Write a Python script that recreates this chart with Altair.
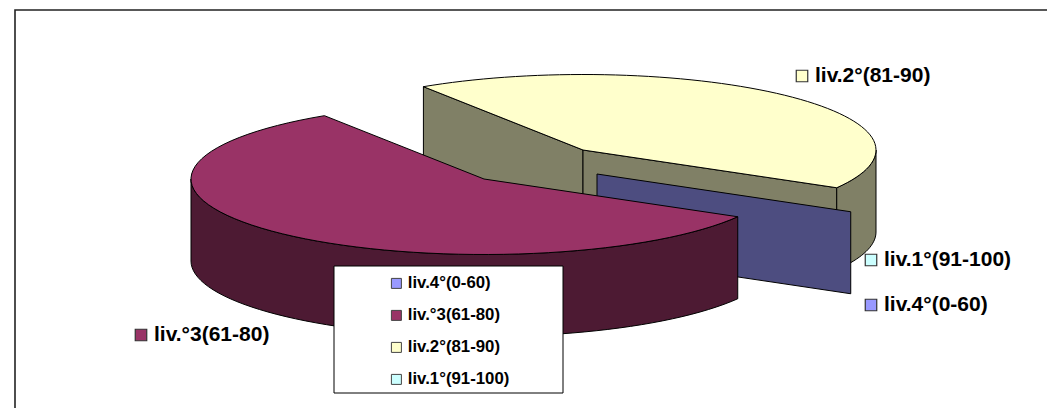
import math
import altair as alt
import pandas as pd

# ---- chart values ----
categories = ["liv.4°(0-60)", "liv.°3(61-80)", "liv.2°(81-90)", "liv.1°(91-100)"]
shares = [0.0, 57.5, 42.5, 0.0]
face_colors = ["#9999FF", "#993366", "#FFFFCC", "#CCFFFF"]
wall_colors = ["#4D4D80", "#4D1A33", "#808066", "#668080"]
centers_x = [597, 484, 583, 583]
centers_y = [174, 179, 150, 150]
label_x = [871, 141, 802, 871]
label_y = [305, 335, 76, 260]

# ---- layout of the tilted pie, in image pixels ----
RX, RY, DEPTH = 293, 75.5, 82
START = -30.0  # degrees, the direction where liv.2 begins
M = 8
VIEW_W, VIEW_H = 1039, 400

total = sum(shares)
a_yellow_end = START + shares[2] / total * 360
a_purple_end = a_yellow_end + shares[1] / total * 360


def rim(i, a0, a1, n=70):
    pts = []
    for k in range(n + 1):
        t = math.radians(a0 + (a1 - a0) * k / n)
        pts.append((centers_x[i] + RX * math.cos(t), centers_y[i] - RY * math.sin(t)))
    return pts


def down(pts):
    return [(x, y + DEPTH) for x, y in reversed(pts)]


def frame(pts):
    pts = pts + pts[:1]
    return pd.DataFrame({"x": [p[0] for p in pts], "y": [p[1] for p in pts], "i": range(len(pts))})


X = alt.X("x:Q", axis=None, scale=alt.Scale(domain=[M, M + VIEW_W], range=[0, VIEW_W], nice=False, zero=False))
Y = alt.Y("y:Q", axis=None, scale=alt.Scale(domain=[M, M + VIEW_H], range=[0, VIEW_H], nice=False, zero=False))


def poly(pts, fill):
    return (
        alt.Chart(frame(pts))
        .mark_line(fill=fill, stroke="#000000", strokeWidth=1, strokeJoin="miter")
        .encode(x=X, y=Y, order="i:Q")
    )


layers = []

# liv.2: walls then top
c2 = (centers_x[2], centers_y[2])
y_start = rim(2, START, START, 1)[0]
y_end = rim(2, a_yellow_end, a_yellow_end, 1)[0]
layers.append(poly([c2, y_end] + down([c2, y_end]), wall_colors[2]))
layers.append(poly([c2, y_start] + down([c2, y_start]), wall_colors[2]))
r = rim(2, START, 0, 20)
layers.append(poly(r + down(r), wall_colors[2]))
layers.append(poly([c2] + rim(2, START, a_yellow_end), face_colors[2]))

# liv.4: a slice of almost no width, only its wall shows
c4 = (centers_x[0], centers_y[0])
b_end = rim(0, START, START, 1)[0]
layers.append(poly([c4, b_end] + down([c4, b_end]), wall_colors[0]))

# liv.3: rim wall then top
r = rim(1, 180, a_purple_end, 60)
layers.append(poly(r + down(r), wall_colors[1]))
layers.append(poly([(centers_x[1], centers_y[1])] + rim(1, a_yellow_end, a_purple_end), face_colors[1]))

# legend box behind the real legend
box = pd.DataFrame({"x": [334], "x2": [563], "y": [266], "y2": [393]})
layers.append(
    alt.Chart(box).mark_rect(fill="#FFFFFF", stroke="#000000", strokeWidth=1).encode(x=X, x2="x2:Q", y=Y, y2="y2:Q")
)

# outer frame, open on the right and at the bottom
fr = pd.DataFrame({"x": [15, 15, M + VIEW_W], "y": [M + VIEW_H, 10, 10], "i": [0, 1, 2]})
layers.append(alt.Chart(fr).mark_line(stroke="#222222", strokeWidth=1.6).encode(x=X, y=Y, order="i:Q"))

# labels and their keys
table = pd.DataFrame({"cat": categories, "x": label_x, "y": label_y, "share": shares})
color = alt.Color(
    "cat:N",
    sort=categories,
    scale=alt.Scale(domain=categories, range=face_colors),
    legend=alt.Legend(
        orient="none",
        legendX=374,
        legendY=261,
        title=None,
        symbolType="square",
        symbolSize=100,
        symbolStrokeColor="#444444",
        symbolStrokeWidth=1,
        labelFont="Liberation Sans",
        labelFontWeight="bold",
        labelFontSize=16.8,
        labelColor="#000000",
        labelOffset=3,
        rowPadding=14,
        padding=6,
    ),
)
layers.append(
    alt.Chart(table)
    .mark_square(size=132, filled=True, stroke="#333333", strokeWidth=1.2, opacity=1)
    .encode(x=X, y=Y, color=color)
)
layers.append(
    alt.Chart(table)
    .mark_text(align="left", baseline="middle", dx=13, font="Liberation Sans", fontWeight="bold", fontSize=21, color="#000000")
    .encode(x=X, y=Y, text="cat:N")
)

chart = (
    alt.layer(*layers)
    .properties(
        width=VIEW_W,
        height=VIEW_H,
        padding=0,
        background="#FFFFFF",
        autosize=alt.AutoSizeParams(type="none"),
    )
    .configure_view(stroke=None)
)
chart.save("out.html", embed_options={"renderer": "svg", "actions": False})
